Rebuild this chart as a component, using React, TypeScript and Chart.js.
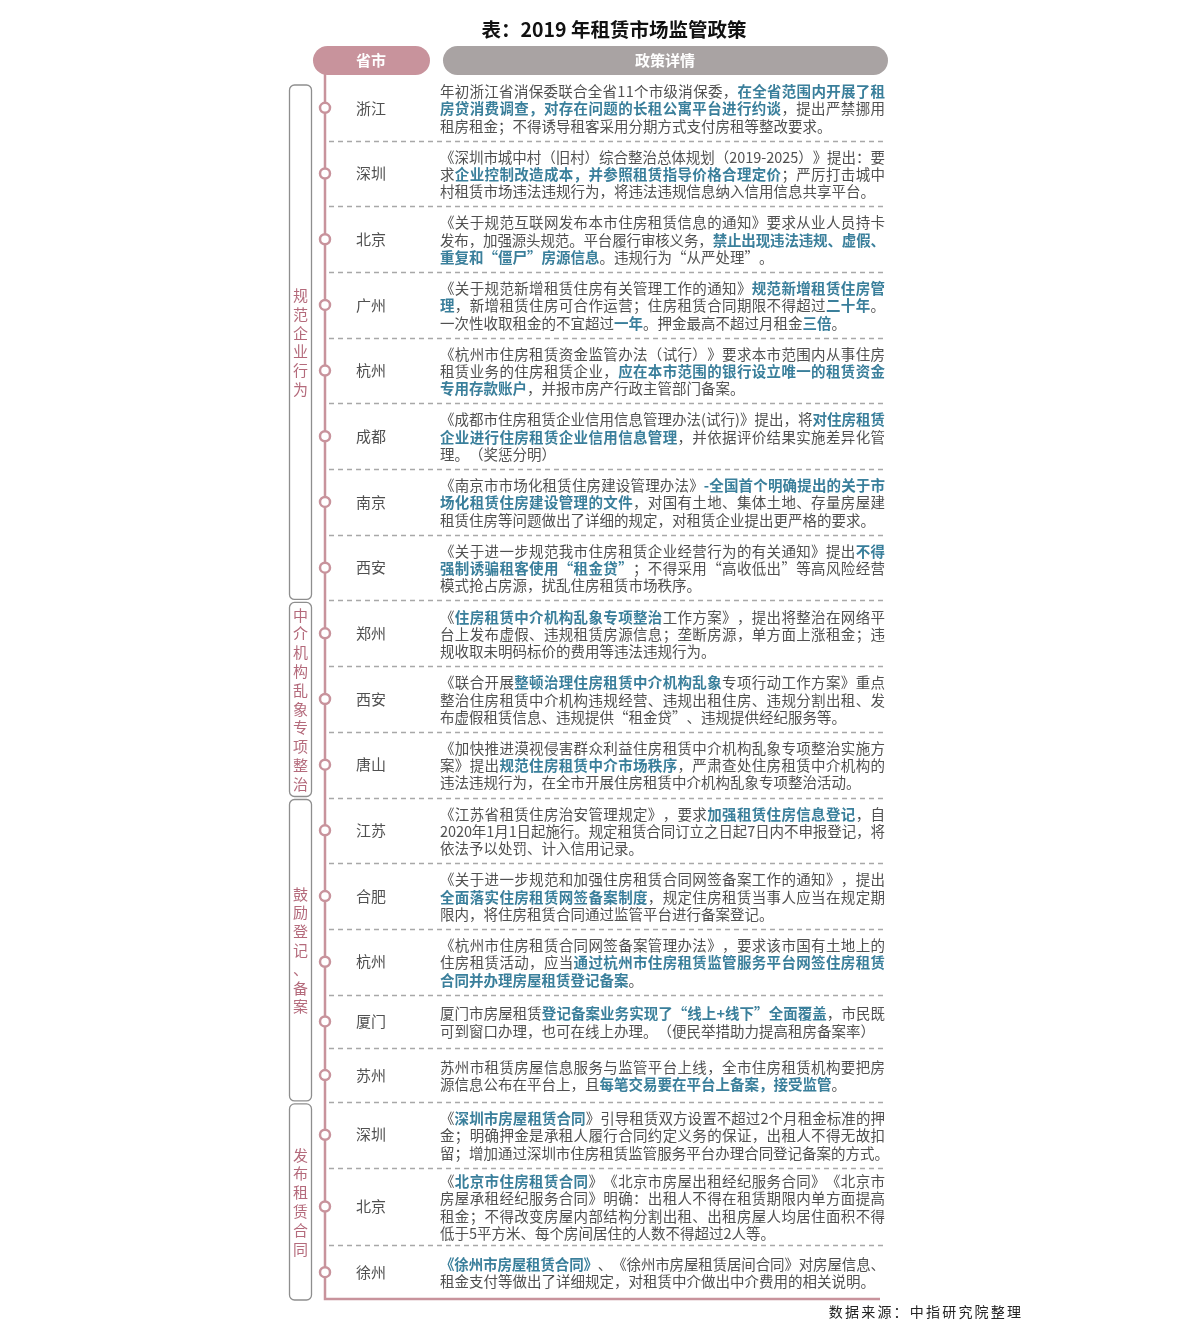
import React, { useEffect, useRef } from "react";
import { Chart, registerables } from "chart.js";

Chart.register(...registerables);

// ---------- data ----------
const TITLE = "表：2019 年租赁市场监管政策";
const SOURCE = "数据来源：中指研究院整理";
const HEADER_LEFT = "省市";
const HEADER_RIGHT = "政策详情";

const GROUPS = ["规范企业行为", "中介机构乱象专项整治", "鼓励登记、备案", "发布租赁合同"];
const GROUP_SIZES = [8, 3, 5, 3];

const CITIES = [
  "浙江", "深圳", "北京", "广州", "杭州", "成都", "南京", "西安",
  "郑州", "西安", "唐山",
  "江苏", "合肥", "杭州", "厦门", "苏州",
  "深圳", "北京", "徐州",
];

// ** ... ** marks the highlighted (bold blue) parts; each string is one printed line
const POLICIES: string[][] = [
  [
    "年初浙江省消保委联合全省11个市级消保委，**在全省范围内开展了租**",
    "**房贷消费调查，对存在问题的长租公寓平台进行约谈**，提出严禁挪用",
    "租房租金；不得诱导租客采用分期方式支付房租等整改要求。",
  ],
  [
    "《深圳市城中村（旧村）综合整治总体规划（2019-2025）》提出：要",
    "求**企业控制改造成本，并参照租赁指导价格合理定价**；严厉打击城中",
    "村租赁市场违法违规行为，将违法违规信息纳入信用信息共享平台。",
  ],
  [
    "《关于规范互联网发布本市住房租赁信息的通知》要求从业人员持卡",
    "发布，加强源头规范。平台履行审核义务，**禁止出现违法违规、虚假、**",
    "**重复和“僵尸”房源信息**。违规行为“从严处理”。",
  ],
  [
    "《关于规范新增租赁住房有关管理工作的通知》**规范新增租赁住房管**",
    "**理**，新增租赁住房可合作运营；住房租赁合同期限不得超过**二十年**。",
    "一次性收取租金的不宜超过**一年**。押金最高不超过月租金**三倍**。",
  ],
  [
    "《杭州市住房租赁资金监管办法（试行）》要求本市范围内从事住房",
    "租赁业务的住房租赁企业，**应在本市范围的银行设立唯一的租赁资金**",
    "**专用存款账户**，并报市房产行政主管部门备案。",
  ],
  [
    "《成都市住房租赁企业信用信息管理办法(试行)》提出，将**对住房租赁**",
    "**企业进行住房租赁企业信用信息管理**，并依据评价结果实施差异化管",
    "理。（奖惩分明）",
  ],
  [
    "《南京市市场化租赁住房建设管理办法》**-全国首个明确提出的关于市**",
    "**场化租赁住房建设管理的文件**，对国有土地、集体土地、存量房屋建",
    "租赁住房等问题做出了详细的规定，对租赁企业提出更严格的要求。",
  ],
  [
    "《关于进一步规范我市住房租赁企业经营行为的有关通知》提出**不得**",
    "**强制诱骗租客使用“租金贷”**；不得采用“高收低出”等高风险经营",
    "模式抢占房源，扰乱住房租赁市场秩序。",
  ],
  [
    "《**住房租赁中介机构乱象专项整治**工作方案》，提出将整治在网络平",
    "台上发布虚假、违规租赁房源信息；垄断房源，单方面上涨租金；违",
    "规收取未明码标价的费用等违法违规行为。",
  ],
  [
    "《联合开展**整顿治理住房租赁中介机构乱象**专项行动工作方案》重点",
    "整治住房租赁中介机构违规经营、违规出租住房、违规分割出租、发",
    "布虚假租赁信息、违规提供“租金贷”、违规提供经纪服务等。",
  ],
  [
    "《加快推进漠视侵害群众利益住房租赁中介机构乱象专项整治实施方",
    "案》提出**规范住房租赁中介市场秩序**，严肃查处住房租赁中介机构的",
    "违法违规行为，在全市开展住房租赁中介机构乱象专项整治活动。",
  ],
  [
    "《江苏省租赁住房治安管理规定》，要求**加强租赁住房信息登记**，自",
    "2020年1月1日起施行。规定租赁合同订立之日起7日内不申报登记，将",
    "依法予以处罚、计入信用记录。",
  ],
  [
    "《关于进一步规范和加强住房租赁合同网签备案工作的通知》，提出",
    "**全面落实住房租赁网签备案制度**，规定住房租赁当事人应当在规定期",
    "限内，将住房租赁合同通过监管平台进行备案登记。",
  ],
  [
    "《杭州市住房租赁合同网签备案管理办法》，要求该市国有土地上的",
    "住房租赁活动，应当**通过杭州市住房租赁监管服务平台网签住房租赁**",
    "**合同并办理房屋租赁登记备案**。",
  ],
  [
    "厦门市房屋租赁**登记备案业务实现了“线上+线下”全面覆盖**，市民既",
    "可到窗口办理，也可在线上办理。（便民举措助力提高租房备案率）",
  ],
  [
    "苏州市租赁房屋信息服务与监管平台上线，全市住房租赁机构要把房",
    "源信息公布在平台上，且**每笔交易要在平台上备案，接受监管**。",
  ],
  [
    "《**深圳市房屋租赁合同**》引导租赁双方设置不超过2个月租金标准的押",
    "金；明确押金是承租人履行合同约定义务的保证，出租人不得无故扣",
    "留；增加通过深圳市住房租赁监管服务平台办理合同登记备案的方式。",
  ],
  [
    "《**北京市住房租赁合同**》《北京市房屋出租经纪服务合同》《北京市",
    "房屋承租经纪服务合同》明确：出租人不得在租赁期限内单方面提高",
    "租金；不得改变房屋内部结构分割出租、出租房屋人均居住面积不得",
    "低于5平方米、每个房间居住的人数不得超过2人等。",
  ],
  [
    "**《徐州市房屋租赁合同》**、《徐州市房屋租赁居间合同》对房屋信息、",
    "租金支付等做出了详细规定，对租赁中介做出中介费用的相关说明。",
  ],
];

// ---------- layout / style ----------
const W = 1191;
const H = 1342;
const TOP = 75;
const BOTTOM = 1299;
const TEXT_LINE = 17.3; // px between printed lines
const ROW_LINE = 12; // row height units per printed line
const ROW_PAD = 29.7; // row height units independent of line count
const LINE_X = 325;
const CITY_X = 371;
const TEXT_X = 440;
const TEXT_W = 445;
const FONT = '"Noto Sans CJK SC", "Noto Sans", sans-serif';
const PINK = "#c8939c";
const CAT_PINK = "#b46a7b";
const GRAY_PILL = "#a9a3a3";
const TEXT = "#505050";
const BLUE = "#3a7f9b";

const rowUnits = POLICIES.map((p) => p.length * ROW_LINE + ROW_PAD);
const rowStart: number[] = [];
{
  let acc = 0;
  rowUnits.forEach((u) => {
    rowStart.push(acc);
    acc += u;
  });
}
const TOTAL = rowUnits.reduce((a, b) => a + b, 0);
const rowCenter = rowUnits.map((u, i) => rowStart[i] + u / 2);

function parseLine(s: string): { t: string; b: boolean }[] {
  const parts = s.split("**");
  return parts.map((t, i) => ({ t, b: i % 2 === 1 })).filter((p) => p.t.length > 0);
}

function roundRect(ctx: CanvasRenderingContext2D, x: number, y: number, w: number, h: number, r: number) {
  ctx.beginPath();
  ctx.moveTo(x + r, y);
  ctx.lineTo(x + w - r, y);
  ctx.arcTo(x + w, y, x + w, y + r, r);
  ctx.lineTo(x + w, y + h - r);
  ctx.arcTo(x + w, y + h, x + w - r, y + h, r);
  ctx.lineTo(x + r, y + h);
  ctx.arcTo(x, y + h, x, y + h - r, r);
  ctx.lineTo(x, y + r);
  ctx.arcTo(x, y, x + r, y, r);
  ctx.closePath();
}

const tablePlugin = {
  id: "policyTable",
  beforeDatasetsDraw(chart: any) {
    const ctx: CanvasRenderingContext2D = chart.ctx;
    const ys = chart.scales.y;
    const xs = chart.scales.x;
    const yp = (v: number) => ys.getPixelForValue(v);
    const lineX = xs.getPixelForValue(LINE_X);
    ctx.save();

    // title
    ctx.fillStyle = "#111";
    ctx.font = `bold 19.5px ${FONT}`;
    ctx.textAlign = "center";
    ctx.textBaseline = "middle";
    ctx.fillText(TITLE, 614, 30);

    // header pills
    ctx.fillStyle = PINK;
    roundRect(ctx, 313, 46, 117, 29, 14.5);
    ctx.fill();
    ctx.fillStyle = GRAY_PILL;
    roundRect(ctx, 443, 46, 445, 29, 14.5);
    ctx.fill();
    ctx.fillStyle = "#fff";
    ctx.font = `bold 15px ${FONT}`;
    ctx.fillText(HEADER_LEFT, 371, 60.5);
    ctx.fillText(HEADER_RIGHT, 665, 60.5);

    // timeline
    ctx.strokeStyle = PINK;
    ctx.lineWidth = 2.5;
    ctx.beginPath();
    ctx.moveTo(lineX, 72);
    ctx.lineTo(lineX, BOTTOM);
    ctx.lineTo(880, BOTTOM);
    ctx.stroke();

    // separators
    ctx.strokeStyle = "#a8a8a8";
    ctx.lineWidth = 1.3;
    ctx.setLineDash([5, 4]);
    for (let i = 1; i < rowStart.length; i++) {
      const y = Math.round(yp(rowStart[i])) + 0.5;
      ctx.beginPath();
      ctx.moveTo(329, y);
      ctx.lineTo(885, y);
      ctx.stroke();
    }
    ctx.setLineDash([]);

    // group boxes
    let r0 = 0;
    GROUPS.forEach((g, gi) => {
      const r1 = r0 + GROUP_SIZES[gi];
      const top = gi === 0 ? TOP + 10 : yp(rowStart[r0]) + 2;
      const bottom = r1 >= rowStart.length ? BOTTOM + 1 : yp(rowStart[r1]) - 1;
      ctx.strokeStyle = "#8e8e8e";
      ctx.lineWidth = 1.3;
      roundRect(ctx, 289.5, top, 22, bottom - top, 5);
      ctx.stroke();
      const chars = Array.from(g);
      const step = 18.8;
      const mid = (top + bottom) / 2;
      ctx.fillStyle = CAT_PINK;
      ctx.font = `15px ${FONT}`;
      ctx.textAlign = "center";
      chars.forEach((c, ci) => {
        ctx.fillText(c, 300.5, mid + (ci - (chars.length - 1) / 2) * step);
      });
      r0 = r1;
    });

    // cities
    ctx.fillStyle = TEXT;
    ctx.font = `15px ${FONT}`;
    ctx.textAlign = "center";
    CITIES.forEach((c, i) => {
      ctx.fillText(c, CITY_X, yp(rowCenter[i]));
    });

    // policy text
    ctx.textAlign = "left";
    POLICIES.forEach((lines, i) => {
      const cy = yp(rowCenter[i]);
      lines.forEach((ln, li) => {
        const y = cy + (li - (lines.length - 1) / 2) * TEXT_LINE + 1;
        const segs = parseLine(ln);
        const chars: { c: string; b: boolean; w: number }[] = [];
        segs.forEach((s) => {
          ctx.font = `${s.b ? "bold " : ""}14.5px ${FONT}`;
          Array.from(s.t).forEach((c) => {
            chars.push({ c, b: s.b, w: ctx.measureText(c).width });
          });
        });
        const total = chars.reduce((a, c) => a + c.w, 0);
        const isLast = li === lines.length - 1;
        let extra = 0;
        if (!isLast) extra = (TEXT_W - total) / Math.max(1, chars.length - 1);
        else if (total > TEXT_W + 4) extra = (TEXT_W + 4 - total) / Math.max(1, chars.length - 1);
        let x = TEXT_X;
        chars.forEach((ch) => {
          ctx.font = `${ch.b ? "bold " : ""}14.5px ${FONT}`;
          ctx.fillStyle = ch.b ? BLUE : TEXT;
          ctx.fillText(ch.c, x, y);
          x += ch.w + extra;
        });
      });
    });

    ctx.restore();
  },
  afterDraw(chart: any) {
    const ctx: CanvasRenderingContext2D = chart.ctx;
    ctx.save();
    ctx.fillStyle = "#222";
    ctx.font = `14px ${FONT}`;
    ctx.textBaseline = "middle";
    ctx.textAlign = "left";
    const chars = Array.from(SOURCE);
    const step = 16.2;
    const start = 1021 - (chars.length - 1) * step - 14;
    chars.forEach((c, i) => ctx.fillText(c, start + i * step, 1312));
    ctx.restore();
  },
};

export default function App() {
  const ref = useRef<HTMLCanvasElement | null>(null);
  useEffect(() => {
    if (!ref.current) return;
    const chart = new Chart(ref.current, {
      type: "scatter",
      data: {
        datasets: [
          {
            data: rowCenter.map((c) => ({ x: LINE_X, y: c })),
            pointRadius: 5,
            pointHoverRadius: 5,
            pointBorderWidth: 2.5,
            pointBackgroundColor: "#ffffff",
            pointBorderColor: PINK,
          },
        ],
      },
      options: {
        animation: false,
        responsive: false,
        devicePixelRatio: 1,
        events: [],
        layout: { autoPadding: false, padding: { top: TOP, bottom: H - BOTTOM, left: 0, right: 0 } },
        scales: {
          x: { type: "linear", min: 0, max: W, display: false },
          y: { type: "linear", min: 0, max: TOTAL, reverse: true, display: false },
        },
        plugins: {
          legend: { display: false },
          tooltip: { enabled: false },
          title: { display: false },
        },
      },
      plugins: [tablePlugin],
    });
    return () => chart.destroy();
  }, []);
  return (
    <div style={{ position: "absolute", left: 0, top: 0, width: W, height: H, background: "#fff" }}>
      <canvas ref={ref} width={W} height={H} style={{ display: "block" }} />
    </div>
  );
}
